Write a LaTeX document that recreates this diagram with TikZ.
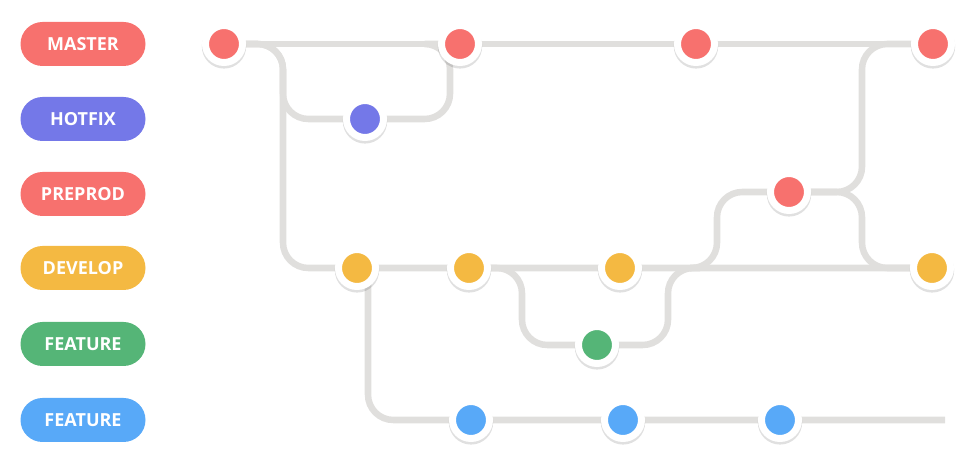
\documentclass[tikz,border=0pt]{standalone}
\usepackage{fontspec}
\setmainfont{Open Sans}
\usetikzlibrary{shapes.misc,shadows,backgrounds}
\definecolor{cmaster}{HTML}{F7716E}
\definecolor{chotfix}{HTML}{7478E8}
\definecolor{cdevelop}{HTML}{F4B942}
\definecolor{cfeatA}{HTML}{55B577}
\definecolor{cfeatB}{HTML}{58A9F8}
\definecolor{crail}{HTML}{E0DFDD}
\begin{document}
\begin{tikzpicture}[x=0.75pt,y=-0.75pt, line join=round, line cap=round,
	rail/.style={draw=crail, line width=4.9pt, rounded corners=19pt},
	commit/.style={circle, fill=#1, draw=white, line width=5.25pt, minimum size=27.75pt, inner sep=0pt,
		drop shadow={shadow xshift=0pt, shadow yshift=-1.5pt, shadow scale=1.2, opacity=0.12, fill=black}},
	tag/.style={rounded rectangle, fill=#1, text=white, font=\bfseries\fontsize{13.5}{16}\selectfont,
		minimum width=93.75pt, minimum height=33pt, inner sep=0pt}]
	\useasboundingbox (0,0) rectangle (976,459);
	% branch tags
	\node[tag=cmaster] (lmaster) at (83,44) {MASTER};
	\node[tag=chotfix] (lhotfix) at (83,119) {HOTFIX};
	\node[tag=cmaster] (lpreprod) at (83,194) {PREPROD};
	\node[tag=cdevelop] (ldevelop) at (83,268) {DEVELOP};
	\node[tag=cfeatA] (lfeatA) at (83,344) {FEATURE};
	\node[tag=cfeatB] (lfeatB) at (83,420) {FEATURE};
	% commits
	\node[commit=cmaster] (m1) at (224,44) {};
	\node[commit=cmaster] (m2) at (460,44) {};
	\node[commit=cmaster] (m3) at (696,44) {};
	\node[commit=cmaster] (m4) at (933,44) {};
	\node[commit=chotfix] (h1) at (365,119) {};
	\node[commit=cmaster] (p1) at (789,192) {};
	\node[commit=cdevelop] (d1) at (357,268) {};
	\node[commit=cdevelop] (d2) at (469,268) {};
	\node[commit=cdevelop] (d3) at (620,268) {};
	\node[commit=cdevelop] (d4) at (932,268) {};
	\node[commit=cfeatA] (g1) at (597,345) {};
	\node[commit=cfeatB] (b1) at (471,420) {};
	\node[commit=cfeatB] (b2) at (623,420) {};
	\node[commit=cfeatB] (b3) at (780,420) {};
	% bends
	\coordinate (hx) at (283,119);
	\coordinate (hy) at (450,44);
	\coordinate (dx) at (283,268);
	\coordinate (fbx) at (368,0);
	\coordinate (fe) at (945,420);
	\coordinate (gx1) at (522,345);
	\coordinate (gx2) at (668,268);
	\coordinate (dj) at (700,268);
	\coordinate (pj) at (690,268);
	\coordinate (px) at (717,192);
	\coordinate (mx) at (862,44);
	\coordinate (dx2) at (862,268);
	\begin{scope}[on background layer]
		\draw[rail] (m1) -- (m4);
		\draw[rail] (m1) -| (hx) -- (h1) -| (hy) -- (m2);
		\draw[rail] (m1) -| (dx) -- (d1) -- (d4);
		\draw[rail] (d1 -| fbx) |- (fe);
		\draw[rail] (d2) -| (gx1) -- (g1) -| (gx2) -- (dj);
		\draw[rail] (pj) -| (px) -- (p1);
		\draw[rail] (p1) -| (mx) -- (m4);
		\draw[rail] (p1) -| (dx2) -- (d4);
	\end{scope}
\end{tikzpicture}
\end{document}
